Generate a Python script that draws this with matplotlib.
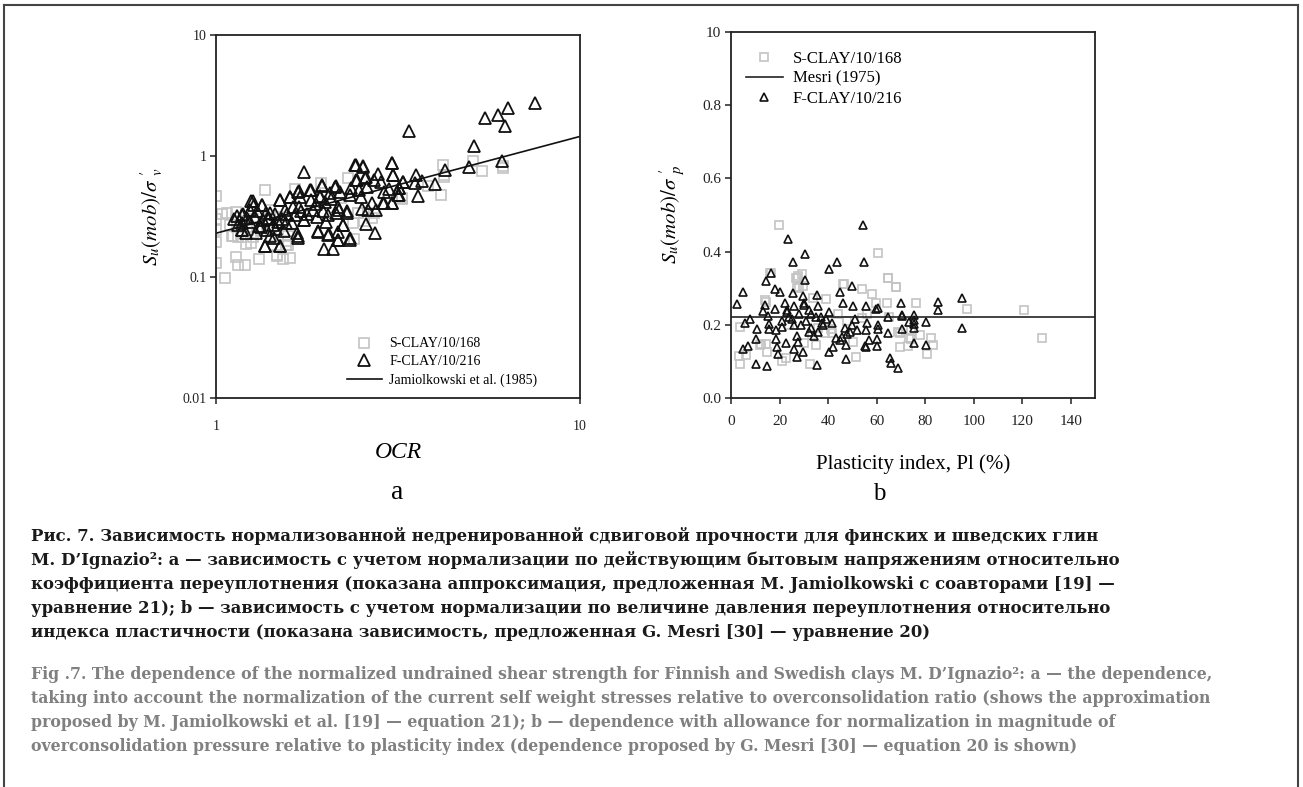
import numpy as np
import matplotlib
matplotlib.use("Agg")
import matplotlib.pyplot as plt
from matplotlib.lines import Line2D

plt.rcParams['font.family'] = ['Liberation Serif', 'DejaVu Serif']
plt.rcParams['mathtext.fontset'] = 'stix'

# --- (a) OCR vs Su(mob)/sigma'v ---
ocr_s = [1.0, 1.0, 1.0, 1.0, 1.0, 1.06, 1.07, 1.135, 1.135, 1.15, 1.2, 1.31, 1.36,
         1.21, 1.25, 1.11, 1.15, 1.47, 1.53, 1.6, 1.58, 1.58, 1.65, 1.94, 2.3, 2.38,
         2.39, 2.45, 2.72, 2.69, 3.24, 3.83, 4.15, 4.21, 4.22, 5.07, 5.38, 6.15, 6.15,
         4.22, 3.24, 1.116, 1.169, 1.14, 1.227, 1.294, 1.41, 1.48, 1.266, 1.47, 1.56,
         1.58, 2.46, 1.04, 1.09, 1.18, 1.33, 1.42, 1.26, 2.2, 2.55]
su_s = [0.466, 0.30, 0.246, 0.195, 0.131, 0.098, 0.337, 0.344, 0.146, 0.125, 0.125, 0.14, 0.528,
        0.187, 0.19, 0.217, 0.215, 0.152, 0.14, 0.143, 0.185, 0.20, 0.53, 0.60, 0.66, 0.28,
        0.208, 0.34, 0.34, 0.31, 0.443, 0.57, 0.474, 0.85, 0.69, 0.905, 0.75, 0.82, 0.79,
        0.67, 0.45, 0.219, 0.214, 0.258, 0.246, 0.261, 0.359, 0.316, 0.214, 0.15, 0.185,
        0.217, 0.337, 0.33, 0.27, 0.29, 0.24, 0.22, 0.3, 0.45, 0.29]

ocr_f = [7.52, 6.35, 5.94, 5.5, 6.23, 3.4, 5.1, 6.1, 4.95, 4.25, 4.0, 3.69, 3.55, 3.52,
         3.6, 3.26, 3.18, 3.18, 3.05, 3.06, 3.04, 2.9, 2.99, 2.89, 2.79, 2.84, 2.71, 2.74,
         2.58, 2.62, 2.52, 2.69, 2.6, 2.57, 2.53, 2.42, 2.42, 2.47, 2.5, 2.35, 2.33, 2.33,
         2.24, 2.29, 2.16, 2.16, 2.18, 2.13, 2.19, 2.09, 1.98, 2.04, 2.01, 2.13, 2.07, 1.96,
         1.93, 1.91, 1.89, 1.82, 1.82, 1.75, 1.69, 1.69, 1.68, 1.6, 1.74, 1.5, 1.5, 1.36,
         1.26, 1.34, 1.18, 1.18, 1.41,
         1.25, 1.27, 1.34, 1.19, 1.18, 1.18, 1.24, 1.28, 1.31, 1.35, 1.38, 1.41, 1.44,
         1.36, 1.5, 1.48, 1.5, 1.55, 1.56, 1.6, 1.65, 1.68, 1.7, 1.67, 1.68, 1.74, 1.81,
         1.85, 1.91, 1.93, 1.95, 1.99, 2.03, 2.03, 2.06, 2.12, 2.17, 2.17, 2.24, 2.29,
         2.33, 2.41, 2.54, 2.44, 2.59, 3.04, 3.06, 2.88, 3.04, 3.26, 3.19, 3.17, 2.76,
         1.12, 1.15, 1.22, 1.3, 1.33, 1.39, 1.45, 1.46, 1.52, 1.57, 1.62, 1.71, 1.78,
         1.21, 1.29, 1.37, 1.43, 1.54, 1.63, 1.88, 1.97, 1.14, 1.24, 1.4]
su_f = [2.75, 2.5, 2.17, 2.05, 1.76, 1.61, 1.22, 0.91, 0.81, 0.77, 0.59, 0.62, 0.69, 0.60,
        0.47, 0.61, 0.54, 0.48, 0.875, 0.70, 0.41, 0.41, 0.53, 0.5, 0.71, 0.61, 0.63, 0.229,
        0.275, 0.36, 0.364, 0.41, 0.55, 0.66, 0.82, 0.84, 0.63, 0.52, 0.46, 0.54, 0.48, 0.203,
        0.268, 0.337, 0.203, 0.235, 0.36, 0.57, 0.5, 0.172, 0.172, 0.225, 0.286, 0.337, 0.445, 0.57,
        0.47, 0.235, 0.315, 0.52, 0.434, 0.74, 0.51, 0.38, 0.22, 0.46, 0.297, 0.18, 0.434, 0.179,
        0.425, 0.395, 0.326, 0.245, 0.217,
        0.428, 0.395, 0.395, 0.333, 0.245, 0.28, 0.287, 0.316, 0.265, 0.297, 0.246, 0.337, 0.21,
        0.179, 0.179, 0.287, 0.434, 0.359, 0.279, 0.462, 0.326, 0.508, 0.462, 0.231, 0.21, 0.297, 0.525,
        0.359, 0.238, 0.462, 0.577, 0.42, 0.326, 0.223, 0.493, 0.558, 0.382, 0.203, 0.27, 0.348,
        0.21, 0.843, 0.816, 0.634, 0.675, 0.87, 0.697, 0.408, 0.408, 0.614, 0.542, 0.477, 0.359,
        0.3, 0.27, 0.31, 0.35, 0.26, 0.3, 0.33, 0.25, 0.3, 0.33, 0.28, 0.35, 0.33,
        0.23, 0.23, 0.34, 0.27, 0.24, 0.38, 0.4, 0.35, 0.32, 0.36, 0.31]

# Jamiolkowski et al. (1985): Su/sigma'v = 0.23 OCR^0.8
jam_ocr = [1.0, 10.0]
jam_s, jam_m = 0.23, 0.8

# --- (b) PI vs Su(mob)/sigma'p ---
pi_s = [19.9, 60.4, 64.8, 68, 27, 27.6, 16.3, 29.8, 46.4, 53.8, 27.3, 3.7, 3.6, 3.4, 6.2,
        14.4, 11.9, 12.4, 14.7, 14.5, 20.9, 22.7, 32.6, 34.9, 41.5, 41.4, 50.4, 51.5, 64.1,
        69.6, 69.6, 73.5, 76.2, 77.9, 80.9, 82.3, 83.1, 97.3, 120.8, 128.2, 74.3, 73,
        33.9, 46.3, 58, 59.7, 64.5, 67.8, 29.1, 26.8, 27.9, 15.9, 14.1, 30, 33.5, 38.7,
        53.8, 56, 69, 74, 65, 39, 24, 36, 44, 48]
su_p_s = [0.473, 0.395, 0.329, 0.304, 0.329, 0.333, 0.341, 0.307, 0.311, 0.299, 0.3, 0.193, 0.092,
          0.115, 0.117, 0.263, 0.145, 0.147, 0.127, 0.148, 0.101, 0.11, 0.092, 0.145, 0.177, 0.188,
          0.154, 0.113, 0.26, 0.14, 0.178, 0.163, 0.26, 0.172, 0.12, 0.163, 0.144, 0.242, 0.24,
          0.165, 0.16, 0.143, 0.274, 0.311, 0.283, 0.26, 0.329, 0.304, 0.338, 0.327, 0.302, 0.342,
          0.268, 0.149, 0.172, 0.177, 0.218, 0.23, 0.181, 0.185, 0.22, 0.27, 0.2, 0.19, 0.23, 0.21]

pi_f = [54.3, 23.6, 30.4, 25.4, 43.6, 55, 40.4, 16.5, 14.5, 30.4, 5.1, 2.3, 18.3, 20.3,
        49.9, 44.8, 35.6, 29.5, 25.4, 69.9, 59.7, 64.7, 70.3, 7.8, 5.9, 10.8, 10.3, 5.1,
        6.9, 10.2, 15, 35.3, 47.2, 65.5, 65.8, 69, 40.2, 42, 47.4, 55.3, 60.1, 60.1, 64.7,
        70.3, 18.7, 19, 19.5, 27.3, 29.5, 25.9, 22.8, 27.5,
        14, 13.2, 15.2, 15.5, 15.5, 18.1, 18.4, 22.2, 22.9, 30, 36, 37.3, 40.5, 41.5, 43.1,
        44.9, 45.7, 50.4, 51, 55.5, 55.9, 55.7, 56.7, 55.6, 60.4, 60.4, 60.4, 73.5, 75.5,
        75.5, 75.5, 75.5, 75.5, 80.3, 80.3, 85.5, 85.5, 95.3, 95.3, 70.5,
        21, 24, 26, 28, 31, 33, 35, 38, 23, 26, 29, 32, 34, 37, 47, 49, 50, 52, 48, 27,
        30, 32, 25, 21, 36, 39, 33, 46]
su_p_f = [0.472, 0.435, 0.393, 0.371, 0.372, 0.371, 0.352, 0.342, 0.32, 0.322, 0.29, 0.256, 0.298, 0.29,
          0.306, 0.29, 0.281, 0.28, 0.287, 0.26, 0.244, 0.222, 0.224, 0.217, 0.204, 0.189, 0.161, 0.133,
          0.143, 0.092, 0.087, 0.089, 0.107, 0.11, 0.096, 0.082, 0.126, 0.14, 0.145, 0.142, 0.142, 0.16,
          0.177, 0.188, 0.16, 0.14, 0.12, 0.113, 0.127, 0.133, 0.15, 0.154,
          0.254, 0.237, 0.224, 0.201, 0.189, 0.242, 0.186, 0.259, 0.236, 0.255, 0.25, 0.206, 0.236, 0.204, 0.163,
          0.158, 0.167, 0.25, 0.215, 0.25, 0.204, 0.186, 0.158, 0.14, 0.245, 0.2, 0.189, 0.209, 0.227,
          0.213, 0.201, 0.19, 0.15, 0.209, 0.145, 0.261, 0.24, 0.272, 0.19, 0.227,
          0.21, 0.22, 0.2, 0.23, 0.21, 0.19, 0.22, 0.2, 0.24, 0.25, 0.2, 0.18, 0.17, 0.22, 0.19, 0.18,
          0.2, 0.185, 0.175, 0.17, 0.26, 0.24, 0.215, 0.195, 0.18, 0.215, 0.23, 0.26]

mesri = 0.22
pi_ticks = [0, 20, 40, 60, 80, 100, 120, 140]
su_p_ticks = [0.0, 0.2, 0.4, 0.6, 0.8, 1.0]
su_p_ticklabels = ['0.0', '0.2', '0.4', '0.6', '0.8', '10']

caption_ru = [
    "Рис. 7. Зависимость нормализованной недренированной сдвиговой прочности для финских и шведских глин",
    "M. D’Ignazio²: a — зависимость с учетом нормализации по действующим бытовым напряжениям относительно",
    "коэффициента переуплотнения (показана аппроксимация, предложенная M. Jamiolkowski с соавторами [19] —",
    "уравнение 21); b — зависимость с учетом нормализации по величине давления переуплотнения относительно",
    "индекса пластичности (показана зависимость, предложенная G. Mesri [30] — уравнение 20)",
]
caption_en = [
    "Fig .7. The dependence of the normalized undrained shear strength for Finnish and Swedish clays M. D’Ignazio²: a — the dependence,",
    "taking into account the normalization of the current self weight stresses relative to overconsolidation ratio (shows the approximation",
    "proposed by M. Jamiolkowski et al. [19] — equation 21); b — dependence with allowance for normalization in magnitude of",
    "overconsolidation pressure relative to plasticity index (dependence proposed by G. Mesri [30] — equation 20 is shown)",
]

W, H = 1303, 787
fig = plt.figure(figsize=(W / 100, H / 100), dpi=100)

sq_col = '#c4c4c4'
ax_col = '#222222'


def style_axes(ax, size):
    for s in ax.spines.values():
        s.set_linewidth(1.3)
        s.set_color(ax_col)
    ax.tick_params(direction='out', length=4, width=1.1, color=ax_col,
                   labelsize=size, labelcolor='#222222', pad=3)


# panel a
ax1 = fig.add_axes([216 / W, 1 - 398 / H, 364 / W, 363 / H])
ax1.set_xscale('log')
ax1.set_yscale('log')
ax1.set_xlim(1, 10)
ax1.set_ylim(0.01, 10)
ax1.plot(ocr_s, su_s, ls='none', marker='s', ms=6.5, mfc='none', mec=sq_col, mew=1.2)
ax1.plot(ocr_f, su_f, ls='none', marker='^', ms=8, mfc='none', mec='#111111', mew=1.3)
xx = np.array(jam_ocr)
ax1.plot(xx, jam_s * xx ** jam_m, color='#111111', lw=1.2)
ax1.set_xticks([1, 10])
ax1.set_xticklabels(['1', '10'])
ax1.set_yticks([0.01, 0.1, 1, 10])
ax1.set_yticklabels(['0.01', '0.1', '1', '10'])
ax1.minorticks_off()
style_axes(ax1, 10)
ax1.tick_params(axis='x', pad=12)
ax1.set_xlabel('OCR', fontsize=17, style='italic', labelpad=6)
ax1.set_ylabel(r"$S_u(mob)/\sigma\ {}^{\prime}_{v}$", fontsize=15, labelpad=12)

h1 = [Line2D([], [], ls='none', marker='s', ms=6.5, mfc='none', mec=sq_col, mew=1.2),
      Line2D([], [], ls='none', marker='^', ms=8, mfc='none', mec='#111111', mew=1.3),
      Line2D([], [], color='#111111', lw=1.2)]
ax1.legend(h1, ['S-CLAY/10/168', 'F-CLAY/10/216', 'Jamiolkowski et al. (1985)'],
           loc='lower left', bbox_to_anchor=(0.325, -0.003), frameon=False,
           fontsize=10, handlelength=2.5, handletextpad=0.55, labelspacing=0.35)

# panel b
ax2 = fig.add_axes([731 / W, 1 - 398 / H, 364 / W, 366 / H])
ax2.set_xlim(0, 150)
ax2.set_ylim(0, 1.0)
ax2.plot(pi_s, su_p_s, ls='none', marker='s', ms=6, mfc='none', mec=sq_col, mew=1.2)
ax2.axhline(mesri, color='#222222', lw=1.2)
ax2.plot(pi_f, su_p_f, ls='none', marker='^', ms=5.5, mfc='none', mec='#111111', mew=1.2)
ax2.set_xticks(pi_ticks)
ax2.set_yticks(su_p_ticks)
ax2.set_yticklabels(su_p_ticklabels)
style_axes(ax2, 11)
ax2.tick_params(axis='x', pad=8)
ax2.set_xlabel('Plasticity index, Pl (%)', fontsize=15, labelpad=19)
ax2.set_ylabel(r"$S_u(mob)/\sigma\ {}^{\prime}_{p}$", fontsize=15, labelpad=10)

h2 = [Line2D([], [], ls='none', marker='s', ms=6, mfc='none', mec=sq_col, mew=1.2),
      Line2D([], [], color='#222222', lw=1.2),
      Line2D([], [], ls='none', marker='^', ms=5.5, mfc='none', mec='#111111', mew=1.2)]
ax2.legend(h2, ['S-CLAY/10/168', 'Mesri (1975)', 'F-CLAY/10/216'],
           loc='upper left', bbox_to_anchor=(0.0, 0.99), frameon=False,
           fontsize=12, handlelength=2.2, handletextpad=0.6, labelspacing=0.25)

# sub-figure letters
fig.text(397 / W, 1 - 493 / H, 'a', fontsize=20, ha='center', va='center')
fig.text(879 / W, 1 - 494 / H, 'b', fontsize=18, ha='center', va='center')

# captions
for i, line in enumerate(caption_ru):
    fig.text(31 / W, 1 - (541 + 24 * i) / H, line, fontsize=11.9, weight='bold',
             family='DejaVu Serif', color='#1a1a1a', va='baseline', ha='left')
for i, line in enumerate(caption_en):
    fig.text(31 / W, 1 - (679 + 24 * i) / H, line, fontsize=11.33, weight='bold',
             family='DejaVu Serif', color='#808080', va='baseline', ha='left')

# page frame
frame_kw = dict(color='#444444', lw=1.5, transform=fig.transFigure)
fig.add_artist(Line2D([4 / W, 1298 / W], [1 - 5 / H, 1 - 5 / H], **frame_kw))
fig.add_artist(Line2D([4 / W, 4 / W], [0, 1 - 5 / H], **frame_kw))
fig.add_artist(Line2D([1298 / W, 1298 / W], [0, 1 - 5 / H], **frame_kw))

fig.savefig('out.png', dpi=100)
